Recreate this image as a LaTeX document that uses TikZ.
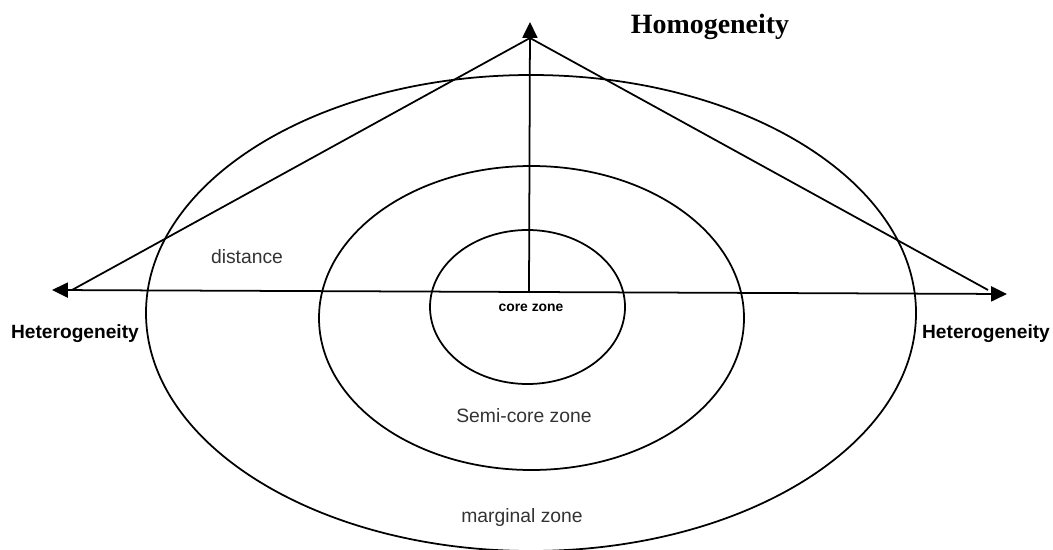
\documentclass[tikz,border=0pt]{standalone}
\usepackage{fontspec}
\setmainfont{Liberation Serif}
\setsansfont{Liberation Sans}
\usetikzlibrary{arrows.meta}

\tikzset{
  zone/.style={line width=1pt},
  tip/.tip={Triangle[length=9pt,width=8.5pt]},
  axis/.style={line width=1pt,-tip},
  sidelabel/.style={font=\sffamily\bfseries\fontsize{10.9}{13}\selectfont},
  zonelabel/.style={font=\sffamily\fontsize{11}{13}\selectfont,text=black!80},
}

\begin{document}
\begin{tikzpicture}[x=0.02cm,y=-0.02cm]
        \useasboundingbox (0,0) rectangle (1053,550);
        % the three zones
        \draw[zone] (531,313) ellipse [x radius=385,y radius=238];
        \draw[zone] (531.5,318) ellipse [x radius=212.5,y radius=152];
        \draw[zone] (527.5,307) ellipse [x radius=97.5,y radius=77];
        % axes
        \coordinate (apex) at (530,22);
        \coordinate (apexfoot) at (530,38);
        \coordinate (west) at (52,290);
        \coordinate (east) at (1007,294);
        \coordinate (origin) at (529,292);
        \coordinate (westfoot) at (72,290);
        \coordinate (eastfoot) at (988,290);
        \draw[axis,tip-tip] (west) -- (east);
        \draw[axis] (origin) -- (apex);
        \draw[zone] (westfoot) -- (apexfoot) -- (eastfoot);
        % labels
        \node[font=\bfseries\fontsize{15.9}{19}\selectfont] (homog) at (710,27) {Homogeneity};
        \node[sidelabel] (hetwest) at (75,334) {Heterogeneity};
        \node[sidelabel] (heteast) at (986,334) {Heterogeneity};
        \node[zonelabel] (dist) at (247,257) {distance};
        \node[font=\sffamily\bfseries\fontsize{7.9}{10}\selectfont] (core) at (531,308) {core zone};
        \node[zonelabel] (semi) at (524,416) {Semi-core zone};
        \node[zonelabel] (marg) at (522,517) {marginal zone};
    \end{tikzpicture}
\end{document}
